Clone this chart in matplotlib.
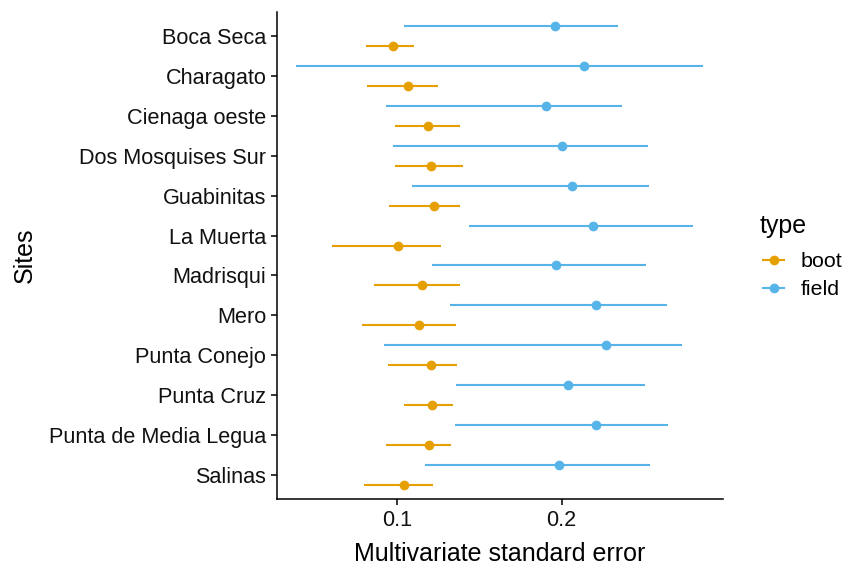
import matplotlib.pyplot as plt
from matplotlib.lines import Line2D

sites = [
    "Boca Seca", "Charagato", "Cienaga oeste", "Dos Mosquises Sur", "Guabinitas",
    "La Muerta", "Madrisqui", "Mero", "Punta Conejo", "Punta Cruz",
    "Punta de Media Legua", "Salinas",
]

field_mid = [0.196, 0.2136, 0.1906, 0.2002, 0.2064, 0.2188, 0.1965, 0.2209, 0.2268, 0.2038, 0.2210, 0.1982]
field_lo = [0.1043, 0.0386, 0.0929, 0.0974, 0.1089, 0.1436, 0.1209, 0.1322, 0.0921, 0.1355, 0.1351, 0.1170]
field_hi = [0.2340, 0.2860, 0.2365, 0.2525, 0.2529, 0.2797, 0.2511, 0.2641, 0.2732, 0.2507, 0.2649, 0.2537]

boot_mid = [0.0972, 0.1065, 0.1189, 0.1203, 0.1225, 0.1004, 0.1152, 0.1134, 0.1207, 0.1211, 0.1195, 0.1043]
boot_lo = [0.0812, 0.0816, 0.0988, 0.0984, 0.0951, 0.0603, 0.0860, 0.0787, 0.0945, 0.1043, 0.0933, 0.0799]
boot_hi = [0.1100, 0.1249, 0.1380, 0.1398, 0.1380, 0.1264, 0.1380, 0.1355, 0.1361, 0.1339, 0.1325, 0.1215]

BOOT = "#E69F00"
FIELD = "#56B4E9"

plt.rcParams["font.family"] = ["Liberation Sans", "DejaVu Sans"]

fig = plt.figure(figsize=(8.45, 5.65), dpi=100)
ax = fig.add_axes([0.3275, 0.1163, 0.5285, 0.863])

pos = list(range(len(sites)))
y_field = [p - 0.25 for p in pos]
y_boot = [p + 0.25 for p in pos]

ax.hlines(y_field, field_lo, field_hi, color=FIELD, lw=1.5)
ax.plot(field_mid, y_field, "o", color=FIELD, ms=7, mec="none")
ax.hlines(y_boot, boot_lo, boot_hi, color=BOOT, lw=1.5)
ax.plot(boot_mid, y_boot, "o", color=BOOT, ms=7, mec="none")

ax.set_xlim(0.0266, 0.2983)
ax.set_ylim(len(sites) - 0.4, -0.6)
ax.set_xticks([0.1, 0.2])
ax.set_xticklabels(["0.1", "0.2"])
ax.set_yticks(pos)
ax.set_yticklabels(sites)

for s in ["top", "right"]:
    ax.spines[s].set_visible(False)
for s in ["left", "bottom"]:
    ax.spines[s].set_linewidth(1.1)
ax.tick_params(axis="both", labelsize=15.6, length=4, width=1.1, colors="black", labelcolor="#111111", pad=3.5)

ax.set_xlabel("Multivariate standard error", fontsize=18)
ax.set_ylabel("Sites", fontsize=18)
ax.xaxis.label.set_va("center")
ax.yaxis.label.set_va("center")
ax.xaxis.set_label_coords(0.5, -0.112)
ax.yaxis.set_label_coords(-0.5636, 0.5)

fig.text(760 / 845, 1 - 226 / 565, "type", fontsize=18, va="center", ha="left")
handles = [
    Line2D([], [], color=BOOT, lw=1.5, marker="o", ms=7, mec="none"),
    Line2D([], [], color=FIELD, lw=1.5, marker="o", ms=7, mec="none"),
]
fig.legend(handles, ["boot", "field"], loc="upper left",
           bbox_to_anchor=(763 / 845, 0.554), frameon=False, fontsize=15.4,
           handlelength=1.0, handletextpad=0.75, labelspacing=0.43,
           borderaxespad=0, borderpad=0)

fig.savefig("out.png", dpi=100)
